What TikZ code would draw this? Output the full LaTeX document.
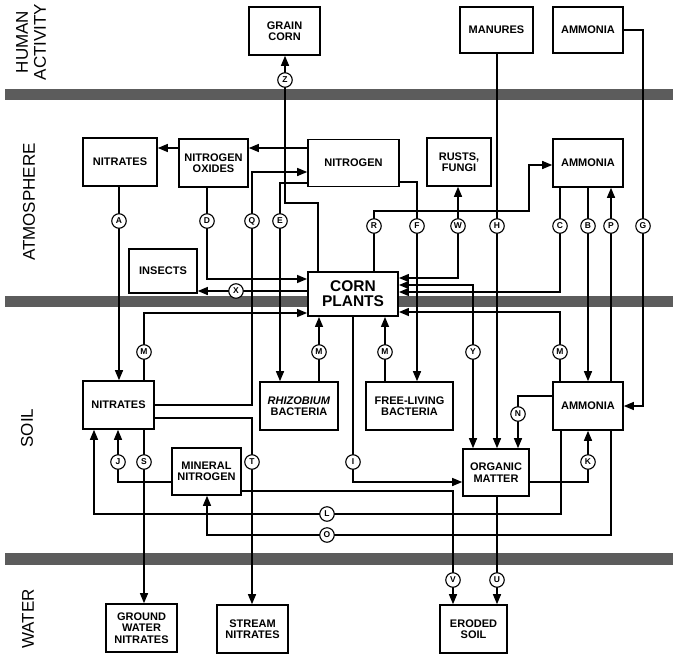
\documentclass[tikz,border=0pt]{standalone}
\usepackage{fontspec}
\setmainfont{Liberation Sans}
\usetikzlibrary{arrows.meta}
\begin{document}
\begin{tikzpicture}[x=1pt,y=-1pt,
  box/.style={draw, line width=1.6pt, fill=white, align=center, inner sep=0pt,
    font=\bfseries\fontsize{11}{11.5}\selectfont},
  bigbox/.style={box, line width=1.9pt, font=\bfseries\fontsize{15.5}{15}\selectfont},
  ln/.style={line width=1.35pt},
  arr/.style={ln, -{Triangle[length=10pt,width=8pt]}},
  darr/.style={ln, {Triangle[length=10pt,width=8pt]}-{Triangle[length=10pt,width=8pt]}},
  lab/.style={circle, draw, fill=white, line width=1.1pt, inner sep=0pt, minimum size=14.5pt,
    font=\bfseries\fontsize{8.5}{8.5}\selectfont},
  band/.style={fill=black!64},
  side/.style={rotate=90, align=center, font=\fontsize{17}{18}\selectfont}]
\useasboundingbox (0,0) rectangle (676,658);
% bands
\fill[band] (5,89) rectangle (673,100);
\fill[band] (5,296) rectangle (673,307);
\fill[band] (5,553) rectangle (673,565);
% side labels
\node[side] (lhum) at (31,42) {HUMAN\\ACTIVITY};
\node[side] (latm) at (29,202) {ATMOSPHERE};
\node[side] (lsoil) at (27,428) {SOIL};
\node[side] (lwat) at (28,619) {WATER};
% boxes
\node[box, minimum width=71pt, minimum height=48pt] (grain) at (284.5,31) {GRAIN\\CORN};
\node[box, minimum width=73pt, minimum height=46pt] (manures) at (496.5,30) {MANURES};
\node[box, minimum width=70pt, minimum height=46pt] (ammT) at (588,30) {AMMONIA};
\node[box, minimum width=74pt, minimum height=48pt] (nitA) at (120,162) {NITRATES};
\node[box, minimum width=69pt, minimum height=48pt] (nox) at (213.5,163) {NITROGEN\\OXIDES};
\node[box, minimum width=91pt, minimum height=47pt] (nitrogen) at (353.5,163) {NITROGEN};
\node[box, minimum width=64pt, minimum height=48pt] (rusts) at (459,162) {RUSTS,\\FUNGI};
\node[box, minimum width=70pt, minimum height=48pt] (ammA) at (588,163) {AMMONIA};
\node[box, minimum width=68pt, minimum height=44pt] (insects) at (163,271) {INSECTS};
\node[box, minimum width=71pt, minimum height=48pt] (nitS) at (118.5,405) {NITRATES};
\node[box, minimum width=78pt, minimum height=48pt] (rhizo) at (299,406) {\textit{RHIZOBIUM}\\BACTERIA};
\node[box, minimum width=87pt, minimum height=48pt] (free) at (409.5,406) {FREE-LIVING\\BACTERIA};
\node[box, minimum width=70pt, minimum height=48pt] (ammS) at (588,406) {AMMONIA};
\node[box, minimum width=69pt, minimum height=47pt] (mineral) at (206.5,471.5) {MINERAL\\NITROGEN};
\node[box, minimum width=66pt, minimum height=47pt] (organic) at (496,472.5) {ORGANIC\\MATTER};
\node[box, minimum width=71pt, minimum height=48pt] (gwn) at (141.5,628) {GROUND\\WATER\\NITRATES};
\node[box, minimum width=71pt, minimum height=48pt] (stream) at (252.5,629) {STREAM\\NITRATES};
\node[box, minimum width=67pt, minimum height=48pt] (eroded) at (473.5,629) {ERODED\\SOIL};
\node[bigbox, minimum width=90pt, minimum height=44pt] (corn) at (353,294) {CORN\\PLANTS};
% connectors
\draw[arr] (nitA.south -| 119,0) -- (nitS.north -| 119,0);
\draw[arr] (nitrogen.west |- 0,148) -- (nox.east |- 0,148);
\draw[arr] (nox.west |- 0,148) -- (nitA.east |- 0,148);
\draw[arr] (nox.south -| 207,0) |- (corn.west |- 0,279);
\draw[arr] (nitS.east |- 0,405) -| (252,172) -- (nitrogen.west |- 0,172);
\draw[arr] (nitrogen.west |- 0,183) -| (rhizo.north -| 280,0);
\draw[arr] (corn.north -| 318,0) |- (285,203) -- (grain.south -| 285,0);
\draw[arr] (corn.north -| 374,0) |- (529,211) |- (ammA.west |- 0,165);
\draw[arr] (nitrogen.east |- 0,182) -| (free.north -| 417,0);
\draw[darr] (corn.east |- 0,278) -| (rusts.south -| 458,0);
\draw[arr] (manures.south -| 497,0) -- (organic.north -| 497,0);
\draw[arr] (ammA.south -| 560,0) |- (corn.east |- 0,292);
\draw[arr] (ammA.south -| 588,0) -- (ammS.north -| 588,0);
\draw[arr] (ammS.north -| 611,0) -- (ammA.south -| 611,0);
\draw[arr] (ammT.east |- 0,30) -| (643,406) -- (ammS.east |- 0,406);
\draw[darr] (corn.east |- 0,285) -| (organic.north -| 473,0);
\draw[arr] (ammS.north -| 560,0) |- (corn.east |- 0,312);
\draw[arr] (nitS.north -| 144,0) |- (corn.west |- 0,313);
\draw[arr] (rhizo.north -| 319,0) -- (corn.south -| 319,0);
\draw[arr] (free.north -| 385,0) -- (corn.south -| 385,0);
\draw[arr] (corn.west |- 0,291) -- (insects.east |- 0,291);
\draw[arr] (corn.south -| 353,0) |- (organic.west |- 0,482);
\draw[arr] (ammS.west |- 0,396) -| (organic.north -| 518,0);
\draw[arr] (organic.east |- 0,482) -| (ammS.south -| 588,0);
\draw[arr] (ammS.south -| 561,0) |- (94,514) -- (nitS.south -| 94,0);
\draw[arr] (ammS.south -| 611,0) |- (207,535) -- (mineral.south -| 207,0);
\draw[arr] (mineral.west |- 0,482) -| (nitS.south -| 118,0);
\draw[arr] (nitS.south -| 144,0) -- (gwn.north -| 144,0);
\draw[arr] (nitS.east |- 0,418) -| (stream.north -| 252,0);
\draw[arr] (mineral.east |- 0,491) -| (eroded.north -| 453,0);
\draw[arr] (organic.south -| 497,0) -- (eroded.north -| 497,0);
% letter circles
\node[lab] (cZ) at (285,80) {Z};
\node[lab] (cA) at (119,221) {A};
\node[lab] (cD) at (207,221) {D};
\node[lab] (cQ) at (252,221) {Q};
\node[lab] (cE) at (280,221) {E};
\node[lab] (cR) at (374,226) {R};
\node[lab] (cF) at (417,226) {F};
\node[lab] (cW) at (458,226) {W};
\node[lab] (cH) at (497,226) {H};
\node[lab] (cC) at (560,226) {C};
\node[lab] (cB) at (588,226) {B};
\node[lab] (cP) at (611,226) {P};
\node[lab] (cG) at (643,226) {G};
\node[lab] (cX) at (236,291) {X};
\node[lab] (cM1) at (144,352) {M};
\node[lab] (cM2) at (319,352) {M};
\node[lab] (cM3) at (385,352) {M};
\node[lab] (cY) at (473,352) {Y};
\node[lab] (cM4) at (560,352) {M};
\node[lab] (cN) at (518,414) {N};
\node[lab] (cJ) at (118,462) {J};
\node[lab] (cS) at (144,462) {S};
\node[lab] (cT) at (252,462) {T};
\node[lab] (cI) at (353,462) {I};
\node[lab] (cK) at (588,462) {K};
\node[lab] (cL) at (327,514) {L};
\node[lab] (cO) at (327,535) {O};
\node[lab] (cV) at (453,580) {V};
\node[lab] (cU) at (497,580) {U};
\end{tikzpicture}
\end{document}
